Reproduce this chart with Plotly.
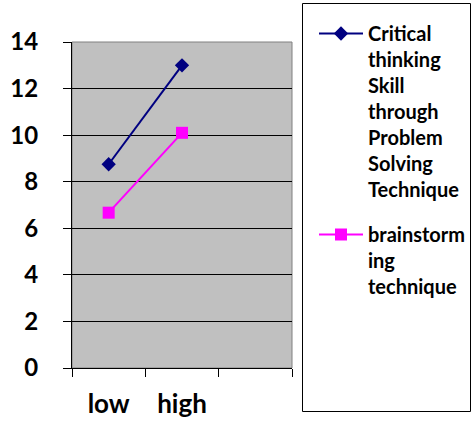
import plotly.graph_objects as go

categories = ["low", "high"]
critical_thinking = [8.75, 13.0]
brainstorming = [6.67, 10.1]
series_names = [
    "Critical<br>thinking<br>Skill<br>through<br>Problem<br>Solving<br>Technique",
    "brainstorm<br>ing<br>technique",
]
y_ticks = [0, 2, 4, 6, 8, 10, 12, 14]

FONT = "Lato"

fig = go.Figure()
fig.add_trace(go.Scatter(
    x=categories, y=critical_thinking, name=series_names[0],
    mode="lines+markers", legendgroup="a",
    line=dict(color="#000080", width=2),
    marker=dict(symbol="diamond", size=11, color="#000080"),
))
fig.add_trace(go.Scatter(
    x=categories, y=brainstorming, name=series_names[1],
    mode="lines+markers", legendgroup="b",
    line=dict(color="#FF00FF", width=2),
    marker=dict(symbol="square", size=12, color="#FF00FF"),
))

W, H = 472, 421
L, R, T, B = 72, 180, 42, 53
pw, ph = W - L - R, H - T - B

def px_x(p):
    return (p - L) / pw

def px_y(p):
    return (H - B - p) / ph

fig.update_layout(
    width=W, height=H,
    margin=dict(l=L, r=R, t=T, b=B, pad=0, autoexpand=False),
    paper_bgcolor="white",
    plot_bgcolor="#C0C0C0",
    font=dict(family=FONT, color="black"),
    showlegend=True,
    legend=dict(
        x=px_x(314), y=px_y(14), xanchor="left", yanchor="top",
        font=dict(family=FONT, size=20, weight="bold", color="black"),
        bgcolor="rgba(0,0,0,0)",
        valign="top",
        traceorder="grouped",
        tracegroupgap=16,
        itemwidth=44,
        maxheight=1.0,
    ),
    xaxis=dict(
        type="category",
        categoryorder="array",
        categoryarray=categories + [" "],
        range=[-0.5, 2.5],
        tickson="boundaries",
        ticks="outside", ticklen=8, tickcolor="black", tickwidth=1,
        showline=True, linecolor="black", linewidth=1,
        showgrid=False, zeroline=False,
        tickfont=dict(family=FONT, size=26, weight="bold", color="black"),
        ticklabelstandoff=13,
        automargin=False,
        fixedrange=True,
    ),
    yaxis=dict(
        range=[0, 14],
        tickvals=y_ticks,
        ticks="outside", ticklen=8, tickcolor="black", tickwidth=1,
        showline=True, linecolor="black", linewidth=1,
        showgrid=True, gridcolor="black", gridwidth=1,
        zeroline=False,
        tickfont=dict(family=FONT, size=24, weight="bold", color="black"),
        ticklabelstandoff=20,
        automargin=False,
        fixedrange=True,
    ),
    shapes=[
        dict(type="rect", xref="paper", yref="paper", x0=0, x1=1, y0=0, y1=1,
             line=dict(color="#808080", width=1), layer="below"),
        dict(type="rect", xref="paper", yref="paper",
             x0=px_x(302.5), x1=px_x(470.5), y0=px_y(411.5), y1=px_y(3.5),
             line=dict(color="black", width=1), fillcolor="rgba(0,0,0,0)"),
    ],
)

fig.write_html(
    "out.html",
    config={"displayModeBar": False},
    post_script="document.body.style.margin='0';document.body.style.overflow='hidden';",
)
